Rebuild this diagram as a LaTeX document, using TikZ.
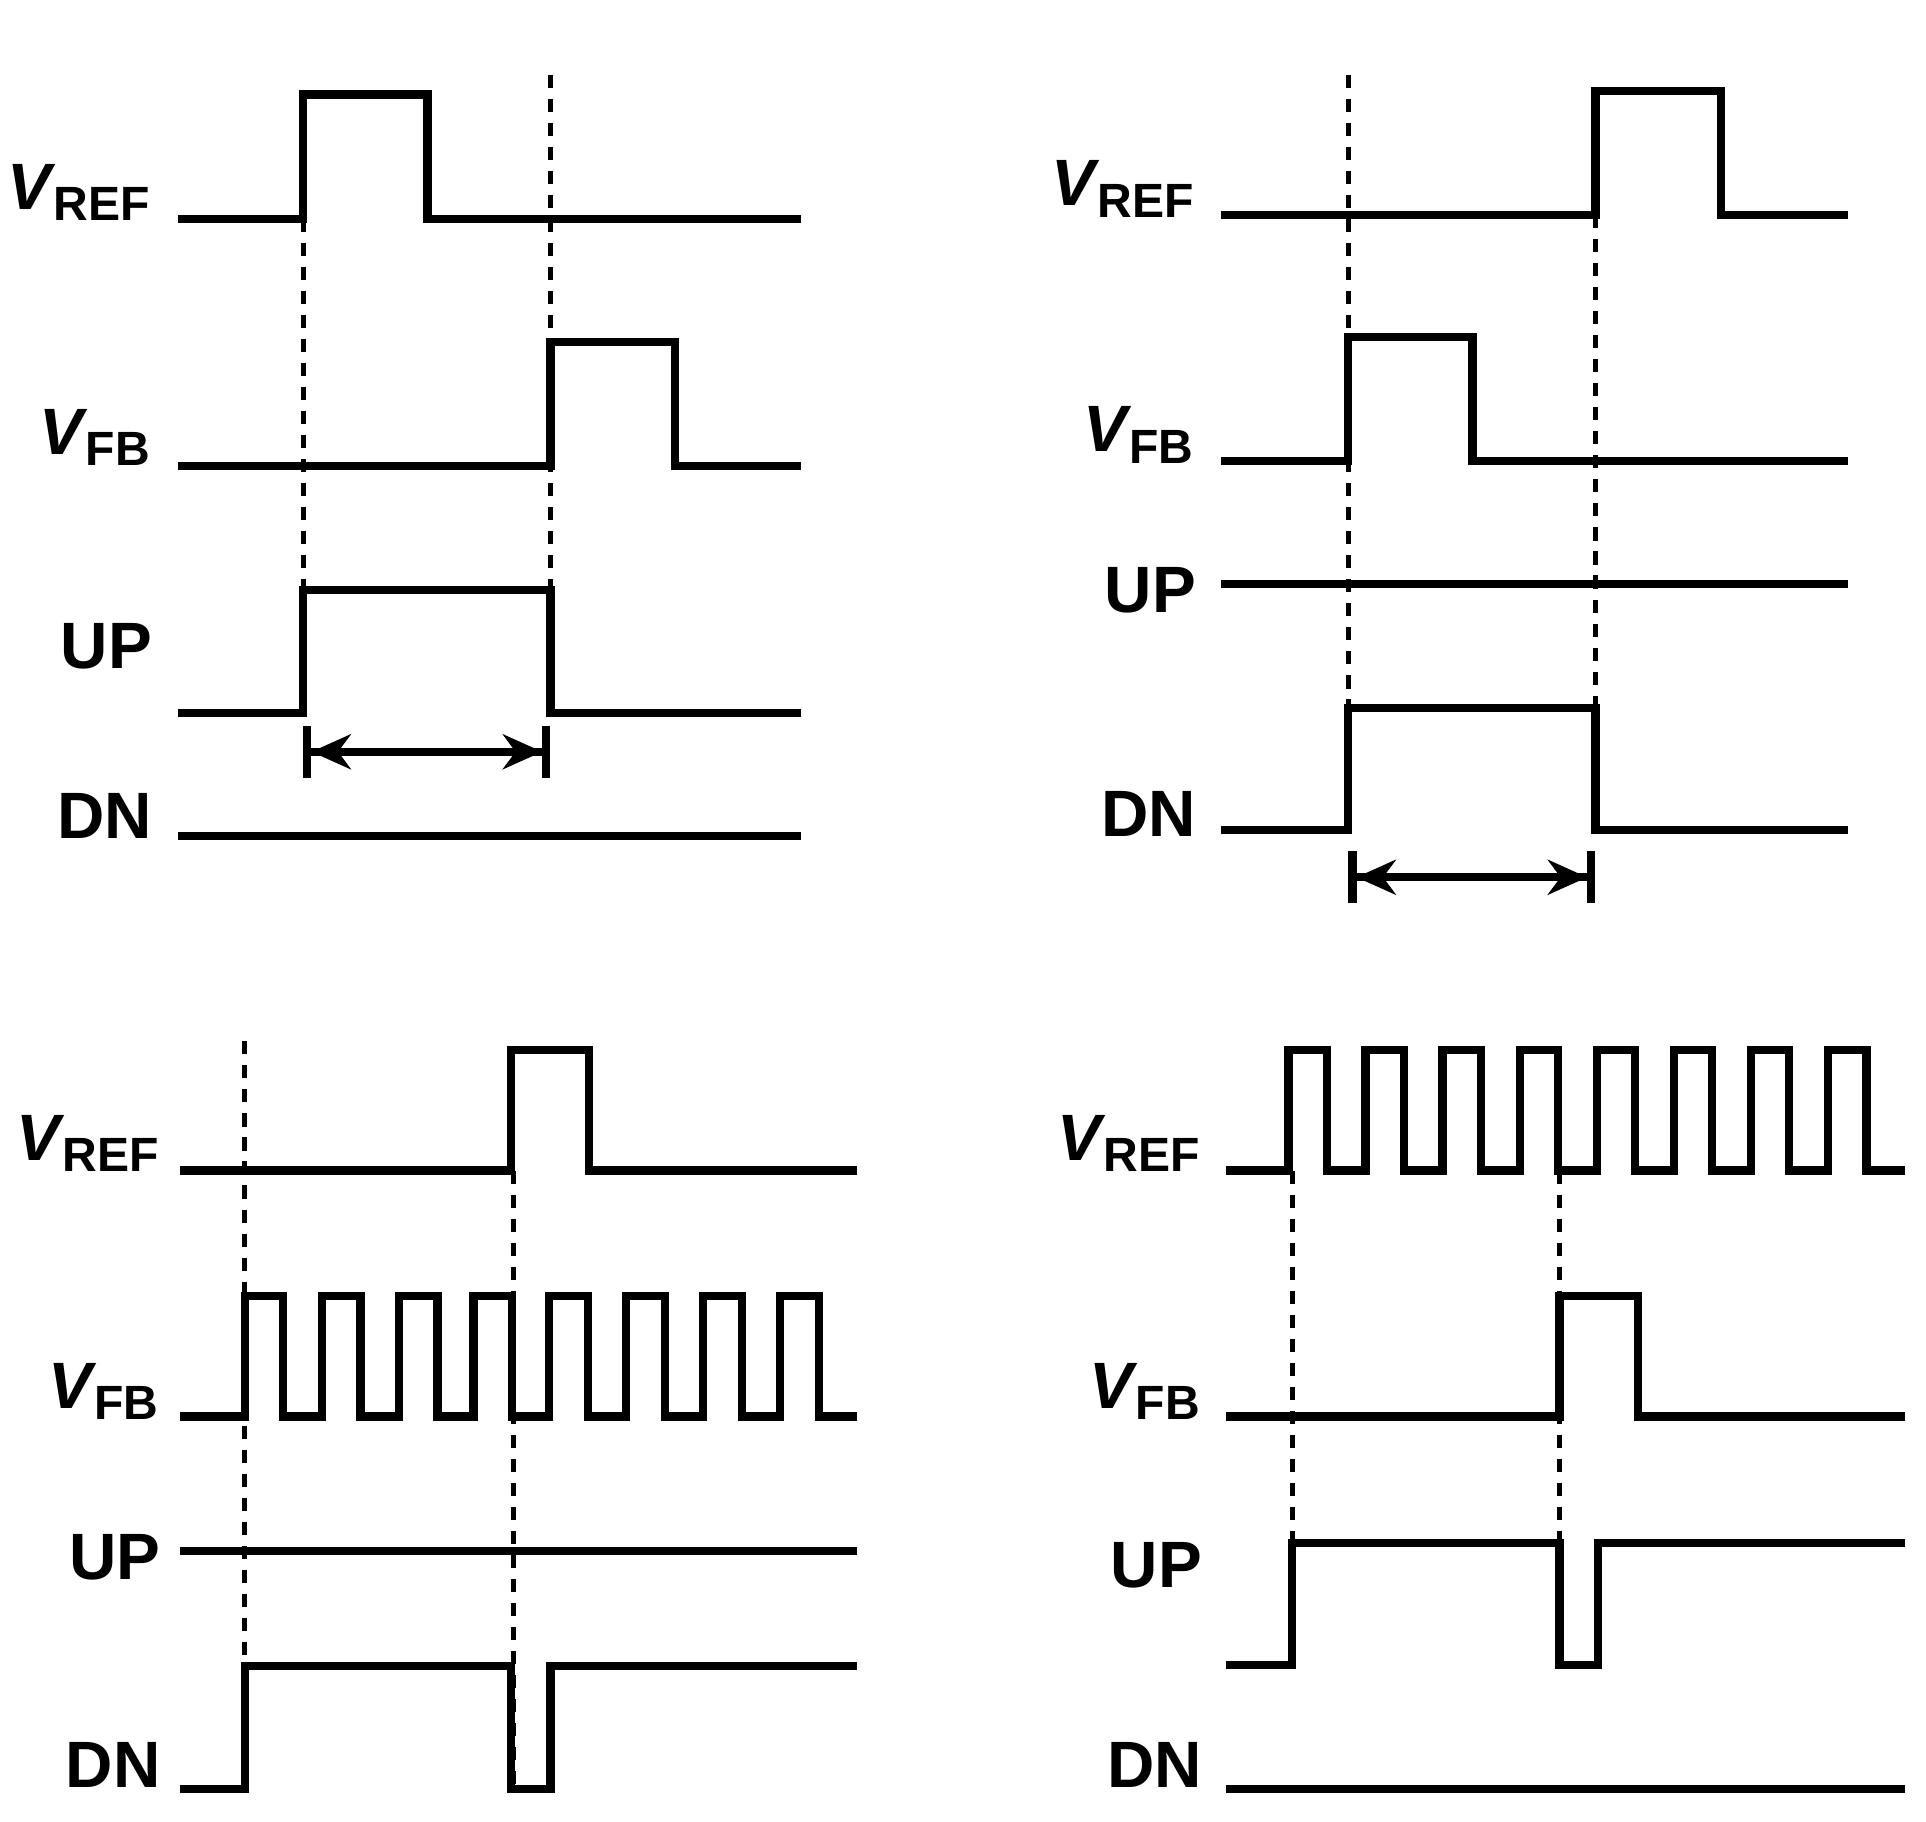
\documentclass[tikz,border=0pt]{standalone}
\usepackage{fontspec}
\setmainfont{Liberation Sans}
\usetikzlibrary{arrows.meta}

\tikzset{
  sig/.style={line width=1.9pt, line join=miter},
  guide/.style={densely dashed, line width=1.1pt, dash pattern=on 3pt off 2.5pt},
  lbl/.style={anchor=east, font=\bfseries\fontsize{15}{15}\selectfont, inner sep=0pt},
  span/.style={line width=1.9pt, {Bar[width=12pt]Stealth[length=9pt,width=8pt]}-{Stealth[length=9pt,width=8pt]Bar[width=12pt]}}
}
\newcommand{\vsig}[1]{\textit{V}\kern-0.5pt\textsubscript{\fontsize{11}{11}\selectfont #1}}

\begin{document}
\begin{tikzpicture}[x=0.01cm, y=-0.01cm]
\useasboundingbox (0,0) rectangle (1550,1466);

% top left
\node[lbl] (ref1) at (123,155) {\vsig{REF}};
\node[lbl] (fb1)  at (123,352) {\vsig{FB}};
\node[lbl] (up1)  at (123,520) {UP};
\node[lbl] (dn1)  at (123,657) {DN};
\draw[sig] (143,176) -| (244,76) -| (344,176) -- (645,176);
\draw[sig] (143,375) -| (443,275) -| (543,375) -- (645,375);
\draw[sig] (143,574) -| (244,475) -| (443,574) -- (645,574);
\draw[sig] (143,673) -- (645,673);
\draw[guide] (244,176) -- (244,574);
\draw[guide] (443,60) -- (443,574);
\coordinate (a1) at (244,605);
\coordinate (b1) at (443,605);
\draw[span] (a1) -- (b1);

% top right
\node[lbl] (ref2) at (963,152) {\vsig{REF}};
\node[lbl] (fb2)  at (963,350) {\vsig{FB}};
\node[lbl] (up2)  at (963,475) {UP};
\node[lbl] (dn2)  at (963,655) {DN};
\draw[sig] (983,173) -| (1284,73) -| (1385,173) -- (1487,173);
\draw[sig] (983,371) -| (1085,271) -| (1185,371) -- (1487,371);
\draw[sig] (983,470) -- (1487,470);
\draw[sig] (983,668) -| (1085,570) -| (1284,668) -- (1487,668);
\draw[guide] (1085,60) -- (1085,668);
\draw[guide] (1284,173) -- (1284,668);
\coordinate (a2) at (1085,706);
\coordinate (b2) at (1284,706);
\draw[span] (a2) -- (b2);

% bottom left
\node[lbl] (ref3) at (130,920) {\vsig{REF}};
\node[lbl] (fb3)  at (130,1120) {\vsig{FB}};
\node[lbl] (up3)  at (130,1253) {UP};
\node[lbl] (dn3)  at (130,1420) {DN};
\draw[sig] (145,942) -| (411,845) -| (474,942) -- (690,942);
\draw[sig] (145,1140) \foreach \x in {197,259,321,381,442,504,566,628} { -| (\x,1043) -| (\x+31,1140) } -- (690,1140);
\draw[sig] (145,1248) -- (690,1248);
\draw[sig] (145,1440) -| (197,1341) -| (411,1440) -| (443,1341) -- (690,1341);
\draw[guide] (197,838) -- (197,1440);
\draw[guide] (413,942) -- (413,1440);

% bottom right
\node[lbl] (ref4) at (968,920) {\vsig{REF}};
\node[lbl] (fb4)  at (968,1120) {\vsig{FB}};
\node[lbl] (up4)  at (968,1260) {UP};
\node[lbl] (dn4)  at (968,1420) {DN};
\draw[sig] (987,942) \foreach \x in {1037,1099,...,1471} { -| (\x,845) -| (\x+31,942) } -- (1533,942);
\draw[sig] (987,1140) -| (1255,1043) -| (1318,1140) -- (1533,1140);
\draw[sig] (987,1340) -| (1040,1242) -| (1255,1340) -| (1286,1242) -- (1533,1242);
\draw[sig] (987,1440) -- (1533,1440);
\draw[guide] (1040,942) -- (1040,1340);
\draw[guide] (1255,942) -- (1255,1340);
\end{tikzpicture}
\end{document}
